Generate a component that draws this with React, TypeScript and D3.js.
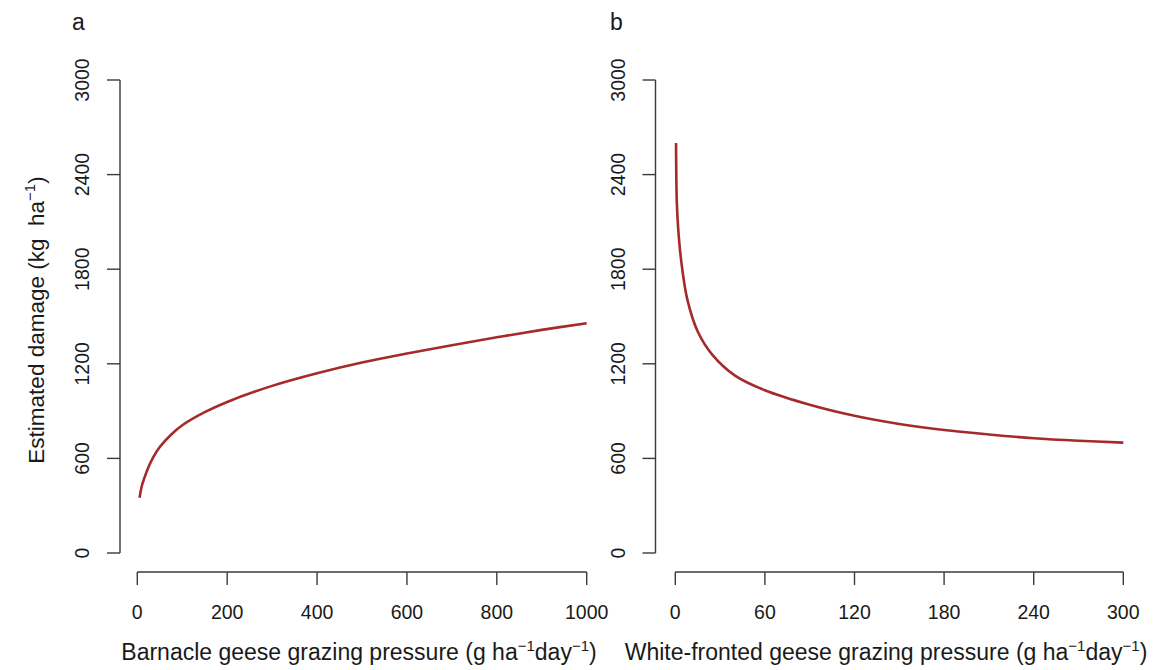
import React from 'react';
import * as d3 from 'd3';

// values
const barnacleX = [5, 10, 15, 25, 35, 50, 75, 100, 150, 200, 300, 400, 500, 600, 700, 800, 900, 1000];
const barnacleDamage = [350, 425, 470, 545, 605, 672, 750, 810, 893, 958, 1060, 1140, 1208, 1265, 1318, 1368, 1415, 1457];

const whiteX = [0.5, 1, 2, 4, 8, 15, 25, 40, 60, 90, 120, 150, 180, 210, 240, 270, 300];
const whiteDamage = [2600, 2230, 2050, 1850, 1610, 1405, 1255, 1125, 1032, 940, 870, 818, 780, 752, 728, 712, 700];

const yTicks = [0, 600, 1200, 1800, 2400, 3000];
const barnacleTicks = [0, 200, 400, 600, 800, 1000];
const whiteTicks = [0, 60, 120, 180, 240, 300];

const FONT = '"Liberation Sans", Arial, sans-serif';
const AXIS = '#3a3a3a';
const TEXT = '#1a1a1a';
const LINE = '#a52a2a';

const y = d3.scaleLinear().domain([0, 3000]).range([553, 80]);

type PanelProps = {
  label: string;
  xs: number[];
  ys: number[];
  xTicks: number[];
  xDomain: [number, number];
  xRange: [number, number];
  yAxisX: number;
  xAxisY: number;
  title: string;
  titleX: number;
  labelX: number;
};

const SUP = { dy: -9, fontSize: 15 };

const Panel = (p: PanelProps) => {
  const x = d3.scaleLinear().domain(p.xDomain).range(p.xRange);
  const line = d3
    .line<number>()
    .x((_, i) => x(p.xs[i]))
    .y(d => y(d))
    .curve(d3.curveCatmullRom.alpha(0.5));

  return (
    <g>
      <text x={p.labelX} y={30} fontSize={23} fill={TEXT} fontFamily={FONT}>{p.label}</text>

      {/* y axis */}
      <line x1={p.yAxisX} x2={p.yAxisX} y1={y(0)} y2={y(3000)} stroke={AXIS} strokeWidth={1.4} />
      {yTicks.map(t => (
        <g key={t}>
          <line x1={p.yAxisX - 13} x2={p.yAxisX} y1={y(t)} y2={y(t)} stroke={AXIS} strokeWidth={1.4} />
          <text
            transform={`translate(${p.yAxisX - 31},${y(t)}) rotate(-90)`}
            textAnchor="middle"
            fontSize={19.5}
            fill={TEXT}
            fontFamily={FONT}
          >
            {t}
          </text>
        </g>
      ))}

      {/* x axis */}
      <line x1={x(p.xTicks[0])} x2={x(p.xTicks[p.xTicks.length - 1])} y1={p.xAxisY} y2={p.xAxisY} stroke={AXIS} strokeWidth={1.4} />
      {p.xTicks.map(t => (
        <g key={t}>
          <line x1={x(t)} x2={x(t)} y1={p.xAxisY} y2={p.xAxisY + 13} stroke={AXIS} strokeWidth={1.4} />
          <text x={x(t)} y={p.xAxisY + 47} textAnchor="middle" fontSize={19.5} fill={TEXT} fontFamily={FONT}>{t}</text>
        </g>
      ))}

      <text x={p.titleX} y={660} textAnchor="middle" fontSize={23} fill={TEXT} fontFamily={FONT}>
        {p.title} (g ha
        <tspan dy={SUP.dy} fontSize={SUP.fontSize}>−1</tspan>
        <tspan dy={-SUP.dy}>day</tspan>
        <tspan dy={SUP.dy} fontSize={SUP.fontSize}>−1</tspan>
        <tspan dy={-SUP.dy}>)</tspan>
      </text>

      <path d={line(p.ys) || ''} fill="none" stroke={LINE} strokeWidth={2.6} strokeLinejoin="round" />
    </g>
  );
};

export default function App() {
  return (
    <svg
      width={1169}
      height={670}
      style={{ position: 'absolute', left: 0, top: 0, background: '#fff' }}
    >
      <Panel
        label="a"
        xs={barnacleX}
        ys={barnacleDamage}
        xTicks={barnacleTicks}
        xDomain={[0, 1000]}
        xRange={[137.3, 586.7]}
        yAxisX={120}
        xAxisY={572}
        title="Barnacle geese grazing pressure"
        titleX={359}
        labelX={72}
      />
      <Panel
        label="b"
        xs={whiteX}
        ys={whiteDamage}
        xTicks={whiteTicks}
        xDomain={[0, 300]}
        xRange={[675.3, 1123.3]}
        yAxisX={655.5}
        xAxisY={572}
        title="White-fronted geese grazing pressure"
        titleX={886}
        labelX={610}
      />
      <text
        transform="translate(44,320) rotate(-90)"
        textAnchor="middle"
        fontSize={22.5}
        fill={TEXT}
        fontFamily={FONT}
      >
        Estimated damage (kg{'\u00a0\u00a0'}ha
        <tspan dy={SUP.dy} fontSize={SUP.fontSize}>−1</tspan>
        <tspan dy={-SUP.dy}>)</tspan>
      </text>
    </svg>
  );
}
